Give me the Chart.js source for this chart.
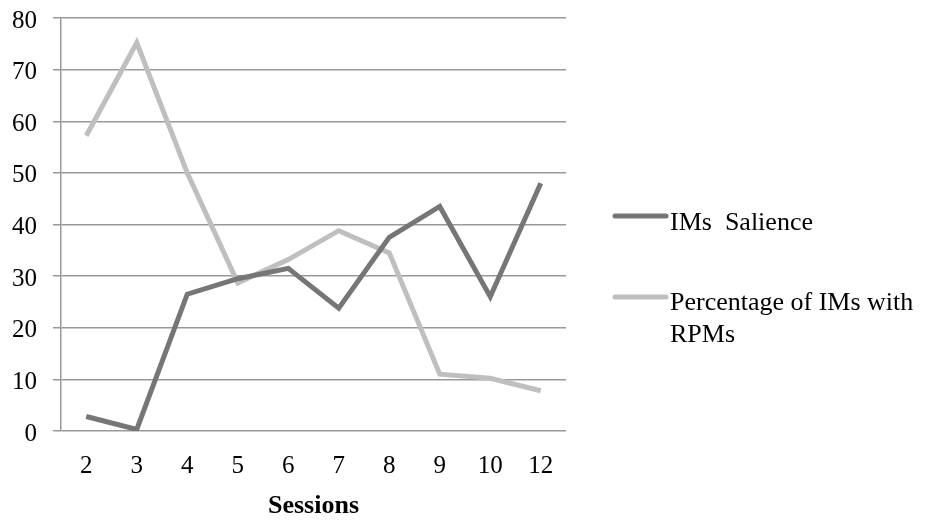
<!DOCTYPE html>
<html>
<head>
<meta charset="utf-8">
<script src="https://cdn.jsdelivr.net/npm/chart.js@4.4.0/dist/chart.umd.min.js"></script>
<style>
  html, body { margin: 0; padding: 0; background: #fff; }
  #wrap { width: 926px; height: 520px; }
</style>
</head>
<body>
<div id="wrap"><canvas id="ChartSessions" width="926" height="520"></canvas></div>
<script>
// data
const sessions = ['2', '3', '4', '5', '6', '7', '8', '9', '10', '12'];
const salience = [2.8, 0.3, 26.5, 29.5, 31.5, 23.8, 37.5, 43.5, 26, 48];
const rpmPercent = [57.2, 75.2, 50, 28.7, 33.2, 38.8, 34.5, 11, 10.2, 7.8];
const seriesNames = ['IMs  Salience', ['Percentage of IMs with', 'RPMs']];
const yTicks = [0, 10, 20, 30, 40, 50, 60, 70, 80];

const FONT = "'Liberation Serif', 'Times New Roman', serif";

// legend on the right, the second label wraps onto two lines
const sideLegend = {
    id: 'sideLegend',
    afterDraw(chart){
        const c = chart.ctx;
        const rows = [{ line: 216, text: 230 }, { line: 297, text: 310 }];
        c.save();
        c.font = '26px ' + FONT;
        c.textBaseline = 'alphabetic';
        chart.data.datasets.forEach(function(ds, i){
            const r = rows[i];
            c.strokeStyle = ds.borderColor;
            c.lineWidth = 5;
            c.lineCap = 'round';
            c.beginPath();
            c.moveTo(615, r.line);
            c.lineTo(666, r.line);
            c.stroke();
            c.fillStyle = '#000';
            let lines = Array.isArray(seriesNames[i]) ? seriesNames[i] : [seriesNames[i]];
            lines.forEach(function(t, k){
                c.fillText(t, 670, r.text + k * 32);
            });
        });
        c.restore();
    }
};

new Chart(document.getElementById('ChartSessions'), {
    type: 'line',
    data: {
        labels: sessions,
        datasets: [{
            label: 'IMs Salience',
            data: salience,
            borderColor: '#767676',
            borderWidth: 5,
            pointRadius: 0,
            tension: 0
        }, {
            label: 'Percentage of IMs with RPMs',
            data: rpmPercent,
            borderColor: '#bfbfbf',
            borderWidth: 5,
            pointRadius: 0,
            tension: 0
        }]
    },
    options: {
        responsive: false,
        animation: false,
        layout: { padding: { top: 18, right: 360, left: 11, bottom: 0 } },
        plugins: {
            legend: false,
            tooltip: { enabled: false }
        },
        scales: {
            x: {
                offset: true,
                grid: { display: false },
                border: { display: false },
                afterFit(axis){ axis.height = 89; },
                ticks: { color: '#000', font: { family: FONT, size: 25 }, padding: 12 },
                title: {
                    display: true,
                    text: 'Sessions',
                    color: '#000',
                    font: { family: FONT, size: 26, weight: 'bold', lineHeight: 1 },
                    padding: { top: 11, bottom: 1 }
                }
            },
            y: {
                min: 0,
                max: 80,
                afterBuildTicks(axis){ axis.ticks = yTicks.map(function(v){ return { value: v }; }); },
                afterFit(axis){
                    axis.width = 50;
                    axis.paddingTop = 0;
                    axis.paddingBottom = 0;
                },
                grid: { color: '#999', lineWidth: 1.5, tickLength: 8 },
                border: { color: '#999', width: 1.5 },
                ticks: { color: '#000', font: { family: FONT, size: 25 }, padding: 16, labelOffset: 3 }
            }
        }
    },
    plugins: [sideLegend]
});
</script>
</body>
</html>
